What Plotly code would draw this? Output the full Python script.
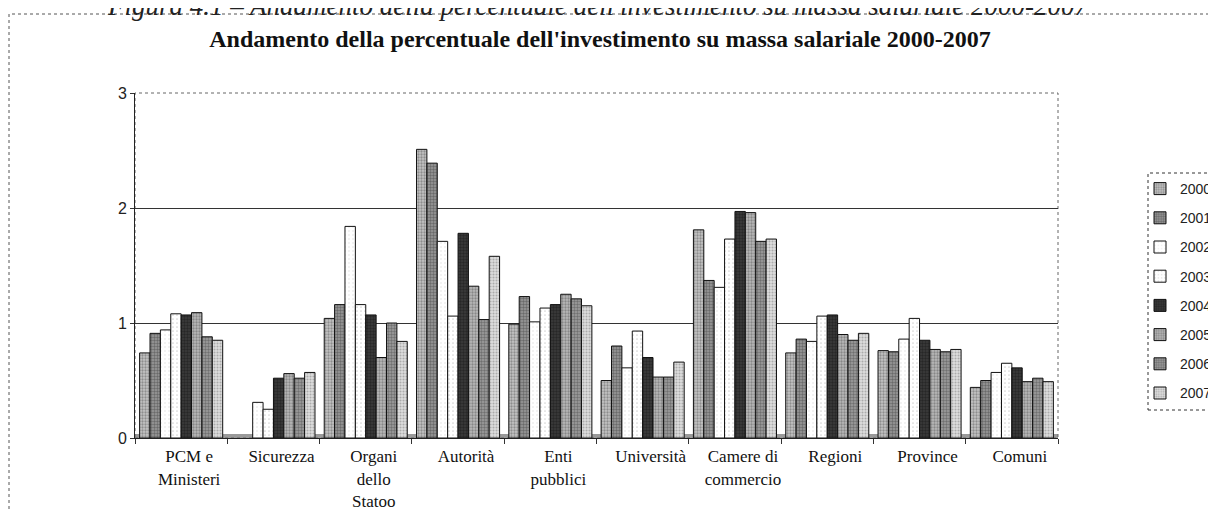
import plotly.graph_objects as go

categories = ["PCM e<br>Ministeri", "Sicurezza", "Organi<br>dello<br>Statoo", "Autorità",
              "Enti<br>pubblici", "Università", "Camere di<br>commercio", "Regioni",
              "Province", "Comuni"]
years = ["2000", "2001", "2002", "2003", "2004", "2005", "2006", "2007"]

v2000 = [0.74, None, 1.04, 2.51, 0.99, 0.50, 1.81, 0.74, 0.76, 0.44]
v2001 = [0.91, None, 1.16, 2.39, 1.23, 0.80, 1.37, 0.86, 0.75, 0.50]
v2002 = [0.94, 0.31, 1.84, 1.71, 1.01, 0.61, 1.31, 0.84, 0.86, 0.57]
v2003 = [1.08, 0.25, 1.16, 1.06, 1.13, 0.93, 1.73, 1.06, 1.04, 0.65]
v2004 = [1.07, 0.52, 1.07, 1.78, 1.16, 0.70, 1.97, 1.07, 0.85, 0.61]
v2005 = [1.09, 0.56, 0.70, 1.32, 1.25, 0.53, 1.96, 0.90, 0.77, 0.49]
v2006 = [0.88, 0.52, 1.00, 1.03, 1.21, 0.53, 1.71, 0.85, 0.75, 0.52]
v2007 = [0.85, 0.57, 0.84, 1.58, 1.15, 0.66, 1.73, 0.91, 0.77, 0.49]
series = [v2000, v2001, v2002, v2003, v2004, v2005, v2006, v2007]

y_ticks = [0, 1, 2, 3]

# styling (bg, fg, pattern size, solidity)
styles = [
    ("#c4c4c4", "#555555", 3, 0.45),
    ("#9a9a9a", "#3a3a3a", 3, 0.5),
    ("#ffffff", "#bbbbbb", 4, 0.1),
    ("#ffffff", "#aaaaaa", 4, 0.15),
    ("#3c3c3c", "#111111", 3, 0.5),
    ("#b8b8b8", "#555555", 3, 0.45),
    ("#a0a0a0", "#3f3f3f", 3, 0.5),
    ("#dedede", "#777777", 3, 0.4),
]

W, H = 1216, 511
L, R, T, B = 127, 166, 85, 81
PW, PH = W - L - R, H - T - B


def px(x):
    return (x - L) / PW


def py(y):
    return (H - B - y) / PH


fig = go.Figure()
for yr, vals, (bg, fg, sz, sol) in zip(years, series, styles):
    fig.add_trace(go.Bar(
        x=categories, y=vals, name=yr, legendgroup=yr,
        marker=dict(color=bg, line=dict(color="#111111", width=1),
                    pattern=dict(shape=".", bgcolor=bg, fgcolor=fg, size=sz, solidity=sol)),
    ))

fig.update_layout(
    width=W, height=H,
    paper_bgcolor="white", plot_bgcolor="white",
    margin=dict(l=L, r=R, t=T, b=B, autoexpand=False),
    barmode="group", bargap=0.1, bargroupgap=0,
    showlegend=True,
    legend=dict(x=px(1132), y=py(165), xanchor="left", yanchor="top",
                traceorder="grouped", tracegroupgap=8,
                font=dict(family="Liberation Sans, Arial", size=14, color="#222"),
                borderwidth=0, bgcolor="rgba(0,0,0,0)"),
    xaxis=dict(showline=True, linecolor="#222", linewidth=1, mirror=False,
               ticks="outside", tickson="boundaries", ticklen=5, tickcolor="#333",
               ticklabelshift=8, ticklabelstandoff=3,
               tickfont=dict(family="Liberation Serif, Times New Roman", size=17, color="#111"),
               showgrid=False),
    yaxis=dict(range=[0, 3], tickvals=y_ticks, showline=True, linecolor="#222", linewidth=1,
               ticks="outside", ticklen=4, tickcolor="#333",
               tickfont=dict(family="Liberation Sans, Arial", size=16, color="#222"),
               showgrid=True, gridcolor="#333", gridwidth=1, zeroline=False),
    title=dict(text="<b>Andamento della percentuale dell'investimento su massa salariale 2000-2007</b>",
               x=592 / W, xanchor="center", y=1 - 31 / H, yanchor="middle",
               font=dict(family="Liberation Serif, Times New Roman", size=24, color="#111")),
)

# 3D floor strip
fig.add_shape(type="rect", xref="paper", yref="paper", x0=0, x1=1, y0=0, y1=py(H - B - 4),
              fillcolor="#9a9a9a", line=dict(width=0), layer="below")
# plot-area border (top and right walls)
fig.add_shape(type="rect", xref="paper", yref="paper", x0=0, x1=1, y0=0, y1=1,
              line=dict(color="#666", width=1, dash="dot"), layer="below")
# outer frame
fig.add_shape(type="rect", xref="paper", yref="paper",
              x0=px(1), x1=px(1203), y0=py(530), y1=py(6),
              line=dict(color="#555", width=1, dash="dot"), layer="above")
# legend box
fig.add_shape(type="rect", xref="paper", yref="paper",
              x0=px(1140), x1=px(1240), y0=py(402), y1=py(165),
              line=dict(color="#333", width=1, dash="dot"), fillcolor="white", layer="below")

fig.add_annotation(text="<i>Figura 4.1 – Andamento della percentuale dell'investimento su massa salariale 2000-2007</i>",
                   xref="paper", yref="paper", x=px(590), y=py(-2),
                   xanchor="center", yanchor="middle", showarrow=False,
                   font=dict(family="Liberation Serif, Times New Roman", size=27, color="#222"))

fig.write_html("out.html")
